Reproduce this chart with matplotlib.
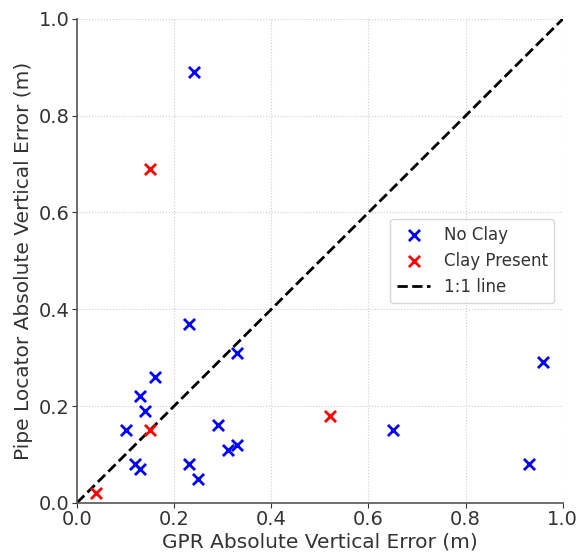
import matplotlib
matplotlib.use("Agg")
import matplotlib.pyplot as plt

# === data ===
no_clay_gpr = [0.24, 0.23, 0.33, 0.16, 0.13, 0.14, 0.10, 0.29, 0.33, 0.31,
               0.12, 0.13, 0.23, 0.25, 0.65, 0.93, 0.96]
no_clay_loc = [0.89, 0.37, 0.31, 0.26, 0.22, 0.19, 0.15, 0.16, 0.12, 0.11,
               0.08, 0.07, 0.08, 0.05, 0.15, 0.08, 0.29]
clay_gpr = [0.15, 0.15, 0.04, 0.52]
clay_loc = [0.69, 0.15, 0.02, 0.18]
line_1to1 = [0, 1]

fig = plt.figure(figsize=(5.79, 5.58), dpi=100)
ax = fig.add_axes([0.133, 0.099, 0.839, 0.867])

ax.scatter(no_clay_gpr, no_clay_loc, marker="x", color="blue", s=64,
           linewidths=2, label="No Clay", zorder=3)
ax.scatter(clay_gpr, clay_loc, marker="x", color="red", s=64,
           linewidths=2, label="Clay Present", zorder=3)
ax.plot(line_1to1, line_1to1, "k--", linewidth=2, label="1:1 line")

ax.set_xlim(0, 1)
ax.set_ylim(0, 1)
ax.set_xlabel("GPR Absolute Vertical Error (m)", fontsize=14.5, color="#333333", labelpad=2)
ax.set_ylabel("Pipe Locator Absolute Vertical Error (m)", fontsize=14.5, color="#333333")
ax.tick_params(labelsize=14, colors="#333333", pad=2)
ax.grid(True, linestyle=":", color="#cccccc", linewidth=0.8)
for side in ["top", "right"]:
    ax.spines[side].set_visible(False)
for side in ["left", "bottom"]:
    ax.spines[side].set_color("#555555")
    ax.spines[side].set_linewidth(1.2)

leg = ax.legend(loc="center right", fontsize=12, bbox_to_anchor=(1.0, 0.5))
for t in leg.get_texts():
    t.set_color("#333333")

fig.savefig("out.png", dpi=100)
